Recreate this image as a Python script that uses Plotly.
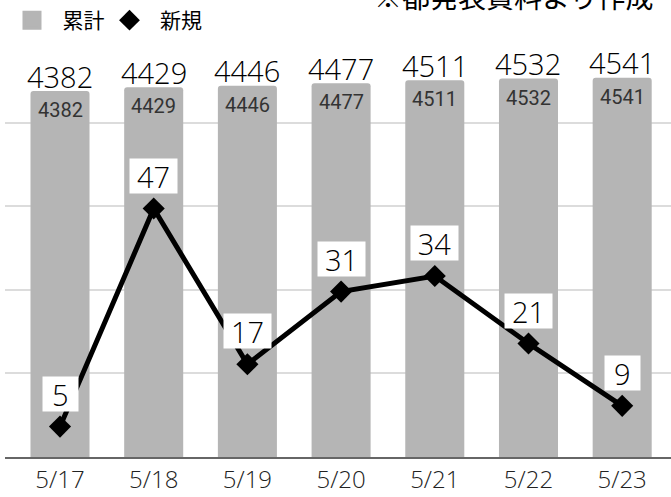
import plotly.graph_objects as go

dates = ["5/17", "5/18", "5/19", "5/20", "5/21", "5/22", "5/23"]
cumulative = [4382, 4429, 4446, 4477, 4511, 4532, 4541]
new_cases = [5, 47, 17, 31, 34, 21, 9]

BAR_COLOR = "#b5b5b5"
FONT_CJK = "Noto Sans CJK JP"
FONT_THIN = "Open Sans"

fig = go.Figure()

fig.add_trace(go.Bar(
    x=dates, y=cumulative, name="累計", showlegend=False,
    marker=dict(color=BAR_COLOR, cornerradius=3, line=dict(width=0)),
    hoverinfo="skip",
))

fig.add_trace(go.Scatter(
    x=dates, y=new_cases, name="新規", yaxis="y2", mode="lines+markers",
    showlegend=False,
    line=dict(color="#000000", width=5),
    marker=dict(symbol="diamond", size=17, color="#000000"),
    hoverinfo="skip",
))

# legend-only entries
fig.add_trace(go.Scatter(
    x=[None], y=[None], name="\u2002累計", mode="markers",
    marker=dict(symbol="square", size=16, color=BAR_COLOR,
                line=dict(color=BAR_COLOR, width=3)),
))
fig.add_trace(go.Scatter(
    x=[None], y=[None], name="\u2002新規", mode="markers",
    marker=dict(symbol="diamond", size=16, color="#000000"),
))

annotations = []
for d, v in zip(dates, cumulative):
    annotations.append(dict(
        x=d, y=v, xref="x", yref="y", text=str(v), showarrow=False,
        yanchor="middle", yshift=15,
        font=dict(family=FONT_THIN, size=29, color="#000000", weight=300),
    ))
    annotations.append(dict(
        x=d, y=v, xref="x", yref="y", text=str(v), showarrow=False,
        yanchor="middle", yshift=-19,
        font=dict(family="Roboto", size=20, color="#333333"),
    ))
for d, v in zip(dates, new_cases):
    annotations.append(dict(
        x=d, y=v, xref="x", yref="y2", text=str(v), showarrow=False,
        yanchor="middle", yshift=33, bgcolor="#ffffff",
        height=34, width=22 + 12.5 * len(str(v)), borderpad=0,
        font=dict(family=FONT_THIN, size=29, color="#000000", weight=300),
    ))
annotations.append(dict(
    x=0.976, y=1.161, xref="paper", yref="paper", text="※都発表資料より作成",
    showarrow=False, xanchor="right", yanchor="middle",
    font=dict(family=FONT_CJK, size=28, color="#000000"),
))

fig.update_layout(
    width=671, height=497,
    margin=dict(l=5, r=0, t=60, b=40),
    paper_bgcolor="#ffffff", plot_bgcolor="#ffffff",
    bargap=0.37,
    font=dict(family=FONT_CJK, color="#000000"),
    showlegend=True,
    legend=dict(
        orientation="h", x=0.0105, xanchor="left", y=1.10, yanchor="middle",
        font=dict(family=FONT_CJK, size=21, color="#000000"),
        bgcolor="rgba(0,0,0,0)", itemwidth=30,
    ),
    xaxis=dict(
        type="category", range=[-0.587, 6.521],
        showline=True, linecolor="#666666", linewidth=2,
        showgrid=False, ticks="",
        tickfont=dict(family=FONT_THIN, size=24, color="#222222", weight=300),
    ),
    yaxis=dict(
        range=[0, 4754], dtick=1000, showticklabels=False,
        showgrid=True, gridcolor="#dcdcdc", gridwidth=1.5, zeroline=False,
    ),
    yaxis2=dict(
        range=[-0.85, 75.6], overlaying="y", showgrid=False,
        showticklabels=False, zeroline=False,
    ),
    annotations=annotations,
)

fig.write_html("out.html", config={"displayModeBar": False},
               post_script="document.body.style.margin='0';")
